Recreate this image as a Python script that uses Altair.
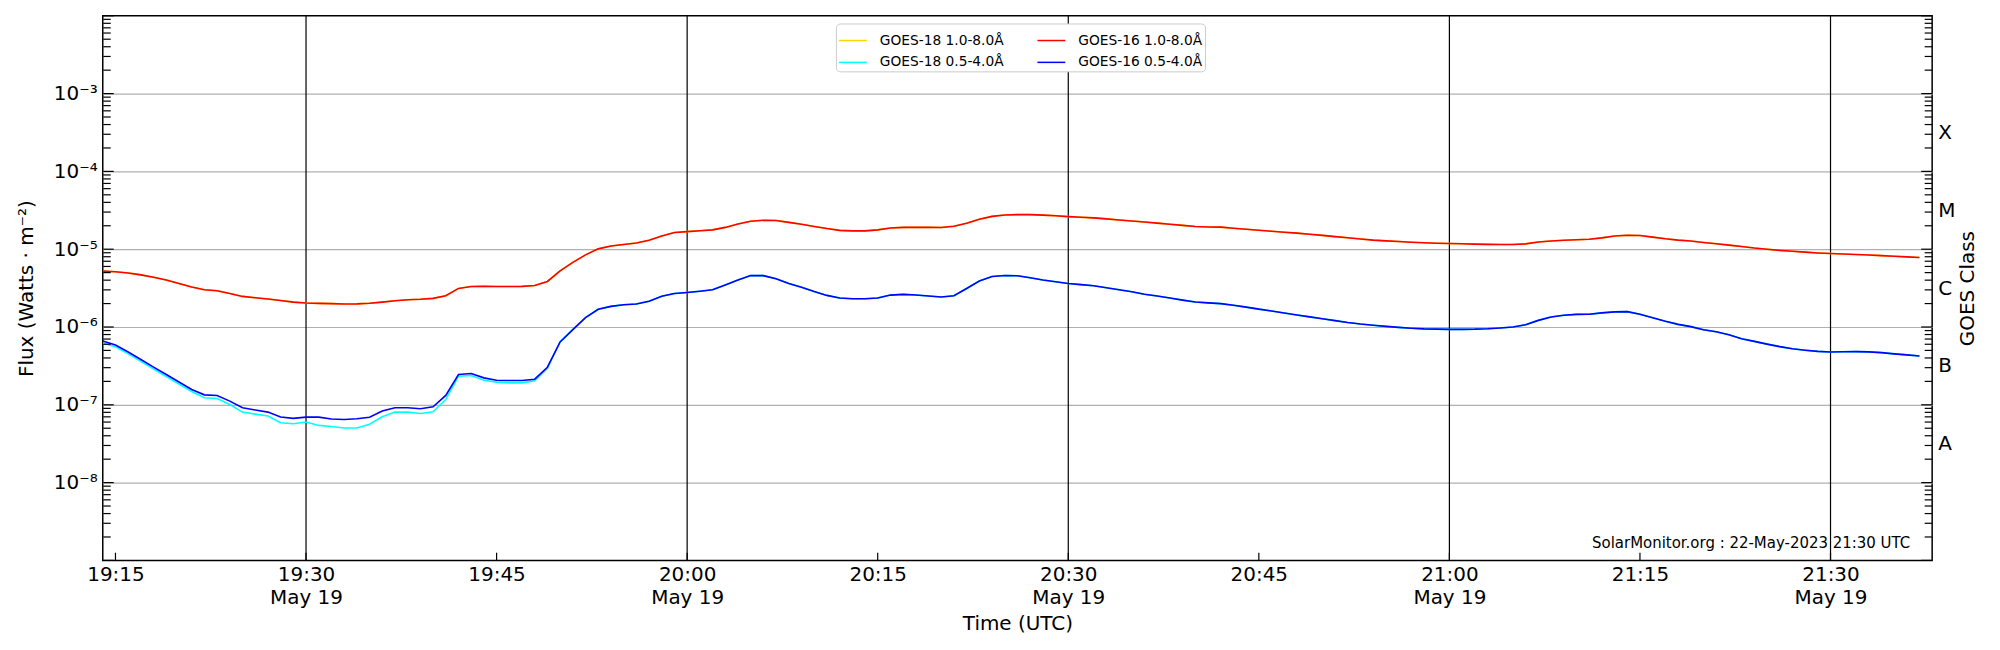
import altair as alt
import pandas as pd

# ---------------- data (log10 of flux, W m^-2), 1-minute cadence from 19:14 UTC ----------------
times = pd.date_range("2023-05-19 19:14", periods=144, freq="1min")
time_str = [t.strftime("%Y-%m-%dT%H:%M:%SZ") for t in times]

goes16_long_log = [
    -5.282, -5.290, -5.305, -5.330, -5.360, -5.395, -5.440, -5.487, -5.521, -5.535,
    -5.570, -5.607, -5.625, -5.640, -5.660, -5.680, -5.692, -5.696, -5.700, -5.705,
    -5.703, -5.695, -5.680, -5.662, -5.650, -5.643, -5.632, -5.598, -5.504, -5.479,
    -5.478, -5.479, -5.479, -5.478, -5.466, -5.415, -5.278, -5.170, -5.073, -4.996,
    -4.960, -4.940, -4.920, -4.885, -4.830, -4.786, -4.774, -4.762, -4.752, -4.720,
    -4.675, -4.641, -4.628, -4.632, -4.655, -4.680, -4.708, -4.735, -4.758, -4.764,
    -4.765, -4.752, -4.728, -4.720, -4.718, -4.720, -4.722, -4.706, -4.667, -4.615,
    -4.578, -4.561, -4.556, -4.556, -4.562, -4.570, -4.581, -4.590, -4.598, -4.610,
    -4.624, -4.637, -4.650, -4.665, -4.679, -4.694, -4.709, -4.714, -4.717, -4.730,
    -4.743, -4.756, -4.769, -4.782, -4.794, -4.808, -4.823, -4.838, -4.853, -4.868,
    -4.884, -4.893, -4.902, -4.910, -4.917, -4.923, -4.927, -4.931, -4.935, -4.938,
    -4.940, -4.940, -4.932, -4.908, -4.895, -4.886, -4.878, -4.872, -4.855, -4.830,
    -4.821, -4.825, -4.845, -4.866, -4.883, -4.895, -4.913, -4.930, -4.948, -4.965,
    -4.985, -5.000, -5.015, -5.027, -5.038, -5.048, -5.056, -5.062, -5.068, -5.075,
    -5.083, -5.091, -5.099, -5.107,
]

# GOES-18 long channel lies exactly under the GOES-16 curve in the picture
goes18_long_log = list(goes16_long_log)

goes16_short_log = [
    -6.179, -6.232, -6.322, -6.418, -6.515, -6.611, -6.707, -6.803, -6.872, -6.880,
    -6.953, -7.038, -7.066, -7.094, -7.158, -7.175, -7.158, -7.158, -7.182, -7.188,
    -7.180, -7.160, -7.081, -7.038, -7.038, -7.051, -7.026, -6.880, -6.611, -6.598,
    -6.654, -6.684, -6.688, -6.688, -6.671, -6.517, -6.192, -6.034, -5.880, -5.772,
    -5.735, -5.715, -5.705, -5.669, -5.605, -5.569, -5.556, -5.540, -5.521, -5.460,
    -5.395, -5.338, -5.340, -5.380, -5.440, -5.490, -5.545, -5.594, -5.628, -5.636,
    -5.637, -5.628, -5.590, -5.581, -5.588, -5.602, -5.615, -5.598, -5.505, -5.410,
    -5.352, -5.338, -5.342, -5.368, -5.395, -5.418, -5.440, -5.455, -5.470, -5.495,
    -5.521, -5.547, -5.580, -5.602, -5.628, -5.655, -5.679, -5.690, -5.700, -5.720,
    -5.745, -5.770, -5.795, -5.820, -5.846, -5.870, -5.894, -5.918, -5.942, -5.962,
    -5.978, -5.992, -6.005, -6.016, -6.024, -6.028, -6.030, -6.030, -6.028, -6.022,
    -6.012, -6.000, -5.972, -5.915, -5.872, -5.850, -5.838, -5.836, -5.818, -5.806,
    -5.803, -5.835, -5.880, -5.925, -5.966, -5.995, -6.035, -6.062, -6.100, -6.150,
    -6.185, -6.220, -6.252, -6.280, -6.298, -6.313, -6.321, -6.318, -6.316, -6.320,
    -6.330, -6.345, -6.358, -6.372,
]

goes18_short_log = [
    -6.205, -6.255, -6.345, -6.440, -6.540, -6.637, -6.733, -6.829, -6.910, -6.920,
    -6.996, -7.094, -7.120, -7.145, -7.231, -7.244, -7.222, -7.265, -7.278, -7.299,
    -7.299, -7.250, -7.154, -7.094, -7.094, -7.111, -7.090, -6.932, -6.632, -6.624,
    -6.684, -6.709, -6.718, -6.718, -6.692, -6.530, -6.192, -6.034, -5.880, -5.772,
    -5.735, -5.715, -5.705, -5.669, -5.605, -5.569, -5.556, -5.540, -5.521, -5.460,
    -5.395, -5.338, -5.340, -5.380, -5.440, -5.490, -5.545, -5.594, -5.628, -5.636,
    -5.637, -5.628, -5.590, -5.581, -5.588, -5.602, -5.615, -5.598, -5.505, -5.410,
    -5.352, -5.338, -5.342, -5.368, -5.395, -5.418, -5.440, -5.455, -5.470, -5.495,
    -5.521, -5.547, -5.580, -5.602, -5.628, -5.655, -5.679, -5.690, -5.700, -5.720,
    -5.745, -5.770, -5.795, -5.820, -5.846, -5.870, -5.894, -5.918, -5.942, -5.962,
    -5.978, -5.992, -6.005, -6.016, -6.024, -6.028, -6.030, -6.030, -6.028, -6.022,
    -6.012, -6.000, -5.972, -5.915, -5.872, -5.850, -5.838, -5.836, -5.818, -5.806,
    -5.803, -5.835, -5.880, -5.925, -5.966, -5.995, -6.035, -6.062, -6.100, -6.150,
    -6.185, -6.220, -6.252, -6.280, -6.298, -6.313, -6.321, -6.318, -6.316, -6.320,
    -6.330, -6.345, -6.358, -6.372,
]

# legend fills column by column: G18 long, G18 short | G16 long, G16 short
series_names = ["GOES-18 1.0-8.0Å", "GOES-18 0.5-4.0Å", "GOES-16 1.0-8.0Å", "GOES-16 0.5-4.0Å"]
series_colors = ["#FFD700", "#00FFFF", "#FF0000", "#0000FF"]
series_logs = [goes18_long_log, goes18_short_log, goes16_long_log, goes16_short_log]
draw_order = [0, 2, 1, 3]  # gold, red on top; cyan, blue on top

major_tick_vals = [1e-9, 1e-8, 1e-7, 1e-6, 1e-5, 1e-4, 1e-3, 1e-2]
label_decades = [1e-8, 1e-7, 1e-6, 1e-5, 1e-4, 1e-3]
minor_tick_vals = [m * 10.0 ** k for k in range(-9, -2) for m in range(2, 10)]
class_positions = [10 ** -7.5, 10 ** -6.5, 10 ** -5.5, 10 ** -4.5, 10 ** -3.5]

tick_times = ["2023-05-19T19:15:00Z", "2023-05-19T19:30:00Z", "2023-05-19T19:45:00Z",
              "2023-05-19T20:00:00Z", "2023-05-19T20:15:00Z", "2023-05-19T20:30:00Z",
              "2023-05-19T20:45:00Z", "2023-05-19T21:00:00Z", "2023-05-19T21:15:00Z",
              "2023-05-19T21:30:00Z"]
vline_times = ["2023-05-19T19:30:00Z", "2023-05-19T20:00:00Z", "2023-05-19T20:30:00Z",
               "2023-05-19T21:00:00Z", "2023-05-19T21:30:00Z"]
annotation = "SolarMonitor.org : 22-May-2023 21:30 UTC"

# ---------------- chart ----------------
def ms(s):
    return int(pd.Timestamp(s).value // 10 ** 6)

W, H = 1834, 546
FONT = "DejaVu Sans"
x_scale = alt.Scale(type="utc", domain=[ms("2023-05-19T19:14:00Z"), ms("2023-05-19T21:38:00Z")])
y_scale = alt.Scale(type="log", domain=[1e-9, 1e-2])
color_scale = alt.Scale(domain=series_names, range=series_colors)

legend = alt.Legend(
    orient="none", legendX=735, legendY=7.7, columns=2, title=None,
    symbolType="stroke", symbolSize=784, symbolStrokeWidth=1.5,
    labelFontSize=13.8, labelFont=FONT, labelColor="black", labelOffset=12,
    rowPadding=-4.7, columnPadding=30, padding=2,
    strokeColor="#cccccc", fillColor="white", cornerRadius=4,
)

x_axis_time = alt.Axis(
    orient="bottom", values=[ms(t) for t in tick_times],
    labelExpr="utcFormat(datum.value, '%H:%M')",
    ticks=False, domain=False, grid=False, labelFontSize=20, labelFont=FONT,
    labelColor="black", labelPadding=4.5, labelBaseline="top",
    labelAlign="center", labelOverlap=False, labelFlush=False,
    title="Time (UTC)", titleFontSize=20, titleFont=FONT, titleFontWeight="normal",
    titleColor="black", titleX=W / 2, titleY=63, titleBaseline="middle", titleAlign="center",
)

x_axis_date = alt.Axis(
    orient="bottom", values=[ms(t) for t in vline_times],
    labelExpr="utcFormat(datum.value, '%b %d')",
    ticks=False, domain=False, grid=False, labelFontSize=20, labelFont=FONT,
    labelColor="black", labelPadding=27.2, labelBaseline="top",
    labelAlign="center", labelOverlap=False, labelFlush=False, title=None,
)

y_axis_left = alt.Axis(
    orient="left", values=label_decades,
    labelExpr="'10' + ['⁻⁹','⁻⁸','⁻⁷','⁻⁶','⁻⁵','⁻⁴','⁻³','⁻²'][round(log(datum.value) / LN10) + 9]",
    ticks=False, domain=False, grid=True, gridColor="#b0b0b0", gridWidth=1.2,
    labelFontSize=20, labelFont=FONT, labelColor="black", labelPadding=5.6,
    labelBaseline="middle",
    title="Flux (Watts · m⁻²)", titleFontSize=20, titleFont=FONT, titleFontWeight="normal",
    titleColor="black", titleAngle=270, titleX=-76, titleY=H / 2,
    titleAlign="center", titleBaseline="middle",
)

y_axis_right = alt.Axis(
    orient="right", values=class_positions,
    labelExpr="['A','B','C','M','X'][round(log(datum.value) / LN10 + 7.5)]",
    ticks=False, domain=False, grid=False,
    labelFontSize=20, labelFont=FONT, labelColor="black", labelPadding=5.6,
    labelAlign="left", labelBaseline="middle",
    title="GOES Class", titleFontSize=20, titleFont=FONT, titleFontWeight="normal",
    titleColor="black", titleAngle=270, titleX=35, titleY=H / 2,
    titleAlign="center", titleBaseline="middle",
)

# vertical black lines every 30 min (carries the date row of the x axis)
vlines = alt.Chart(pd.DataFrame({"t": vline_times})).mark_rule(
    color="black", strokeWidth=1.2
).encode(x=alt.X("t:T", scale=x_scale, axis=x_axis_date))

# data lines
line_layers = []
for k, i in enumerate(draw_order):
    name, logs = series_names[i], series_logs[i]
    df = pd.DataFrame({"time": time_str, "flux": [10.0 ** v for v in logs], "series": name})
    line_layers.append(
        alt.Chart(df).mark_line(strokeWidth=1.6, clip=True).encode(
            x=alt.X("time:T", scale=x_scale, axis=x_axis_time if k == 0 else None),
            y=alt.Y("flux:Q", scale=y_scale, axis=y_axis_left if k == 0 else None),
            color=alt.Color("series:N", scale=color_scale, legend=legend),
        )
    )

df_major = pd.DataFrame({"v": major_tick_vals})
df_minor = pd.DataFrame({"v": minor_tick_vals})

def yticks(df, x0, x1, axis=None):
    return alt.Chart(df).mark_rule(color="black", strokeWidth=1.2).encode(
        y=alt.Y("v:Q", scale=y_scale, axis=axis),
        x=alt.value(x0), x2=alt.value(x1),
    )

left_major = yticks(df_major, 0.5, 11)
left_minor = yticks(df_minor, 0.5, 8)
right_major = yticks(df_major, W, W - 11)
right_minor = yticks(df_minor, W, W - 7.5, axis=y_axis_right)

xticks = alt.Chart(pd.DataFrame({"t": tick_times})).mark_rule(color="black", strokeWidth=1.2).encode(
    x=alt.X("t:T", scale=x_scale, axis=None),
    y=alt.value(H), y2=alt.value(H - 7.7),
)

note = alt.Chart(pd.DataFrame({"txt": [annotation]})).mark_text(
    align="right", baseline="middle", fontSize=15, font=FONT, color="black"
).encode(x=alt.value(W - 22), y=alt.value(H - 17.5), text="txt:N")

chart = alt.layer(
    vlines, *line_layers, left_major, left_minor, right_major, right_minor, xticks, note
).resolve_scale(y="shared", x="shared").resolve_axis(y="independent", x="independent").properties(
    width=W, height=H,
    autosize=alt.AutoSizeParams(type="none"),
    padding={"left": 95, "top": 7, "right": 60, "bottom": 80},
).configure(font=FONT).configure_view(stroke="black", strokeWidth=1.5)

chart.save("out.html", embed_options={"renderer": "svg", "actions": False})
